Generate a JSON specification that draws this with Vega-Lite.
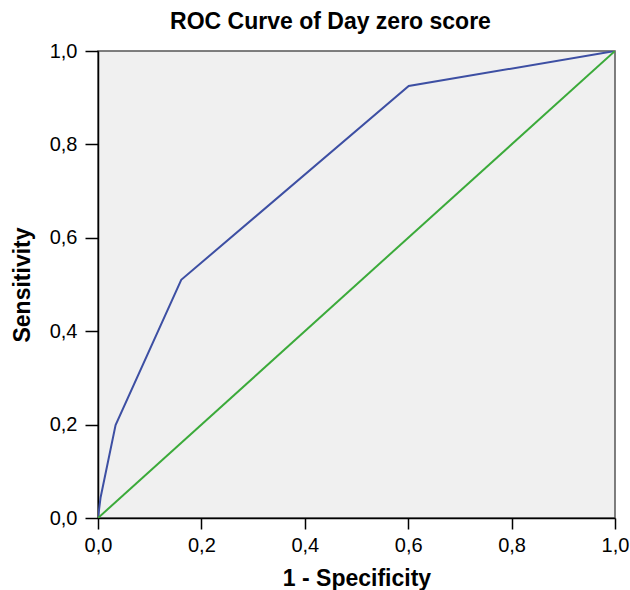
{
  "$schema": "https://vega.github.io/schema/vega-lite/v6.json",
  "autosize": {"type": "none"},
  "padding": {"left": 98, "top": 51, "right": 15, "bottom": 72},
  "width": 517,
  "height": 467,
  "background": "white",
  "config": {
    "locale": {"number": {"decimal": ",", "thousands": ".", "grouping": [3], "currency": ["", "€"]}},
    "font": "Liberation Sans",
    "view": {"fill": "#F0F0F0", "stroke": "#555555", "strokeWidth": 1.5}
  },
  "title": {
    "text": "ROC Curve of Day zero score",
    "fontSize": 23,
    "fontWeight": "bold",
    "font": "Liberation Sans",
    "color": "#000000",
    "offset": 7,
    "dx": -26
  },
  "data": {
    "values": [
      {"fpr": 0.0, "tpr": 0.0, "series": "Day zero score", "ord": 0},
      {"fpr": 0.005, "tpr": 0.044, "series": "Day zero score", "ord": 1},
      {"fpr": 0.034, "tpr": 0.199, "series": "Day zero score", "ord": 2},
      {"fpr": 0.161, "tpr": 0.51, "series": "Day zero score", "ord": 3},
      {"fpr": 0.601, "tpr": 0.925, "series": "Day zero score", "ord": 4},
      {"fpr": 1.0, "tpr": 1.0, "series": "Day zero score", "ord": 5},
      {"fpr": 0.0, "tpr": 0.0, "series": "Reference Line", "ord": 0},
      {"fpr": 1.0, "tpr": 1.0, "series": "Reference Line", "ord": 1}
    ]
  },
  "mark": {"type": "line", "strokeWidth": 2, "clip": true},
  "encoding": {
    "x": {
      "field": "fpr",
      "type": "quantitative",
      "scale": {"domain": [0, 1], "nice": false, "zero": false},
      "axis": {
        "title": "1 - Specificity",
        "values": [0, 0.2, 0.4, 0.6, 0.8, 1.0],
        "format": ".1f",
        "grid": false,
        "domainColor": "#000000",
        "domainWidth": 1.5,
        "tickColor": "#000000",
        "tickWidth": 1.5,
        "tickSize": 11,
        "labelFontSize": 20,
        "labelColor": "#000000",
        "labelPadding": 6,
        "labelFlush": false,
        "titleFontSize": 23,
        "titleFontWeight": "bold",
        "titleColor": "#000000",
        "titlePadding": 12
      }
    },
    "y": {
      "field": "tpr",
      "type": "quantitative",
      "scale": {"domain": [0, 1], "nice": false, "zero": false},
      "axis": {
        "title": "Sensitivity",
        "values": [0, 0.2, 0.4, 0.6, 0.8, 1.0],
        "format": ".1f",
        "grid": false,
        "domainColor": "#000000",
        "domainWidth": 1.5,
        "tickColor": "#000000",
        "tickWidth": 1.5,
        "tickSize": 13,
        "labelFontSize": 20,
        "labelColor": "#000000",
        "labelPadding": 8,
        "labelFlush": false,
        "titleFontSize": 23,
        "titleFontWeight": "bold",
        "titleColor": "#000000",
        "titlePadding": 15
      }
    },
    "color": {
      "field": "series",
      "type": "nominal",
      "scale": {"domain": ["Day zero score", "Reference Line"], "range": ["#3D4FA3", "#3BAA3A"]},
      "legend": null
    },
    "order": {"field": "ord", "type": "quantitative"}
  }
}
